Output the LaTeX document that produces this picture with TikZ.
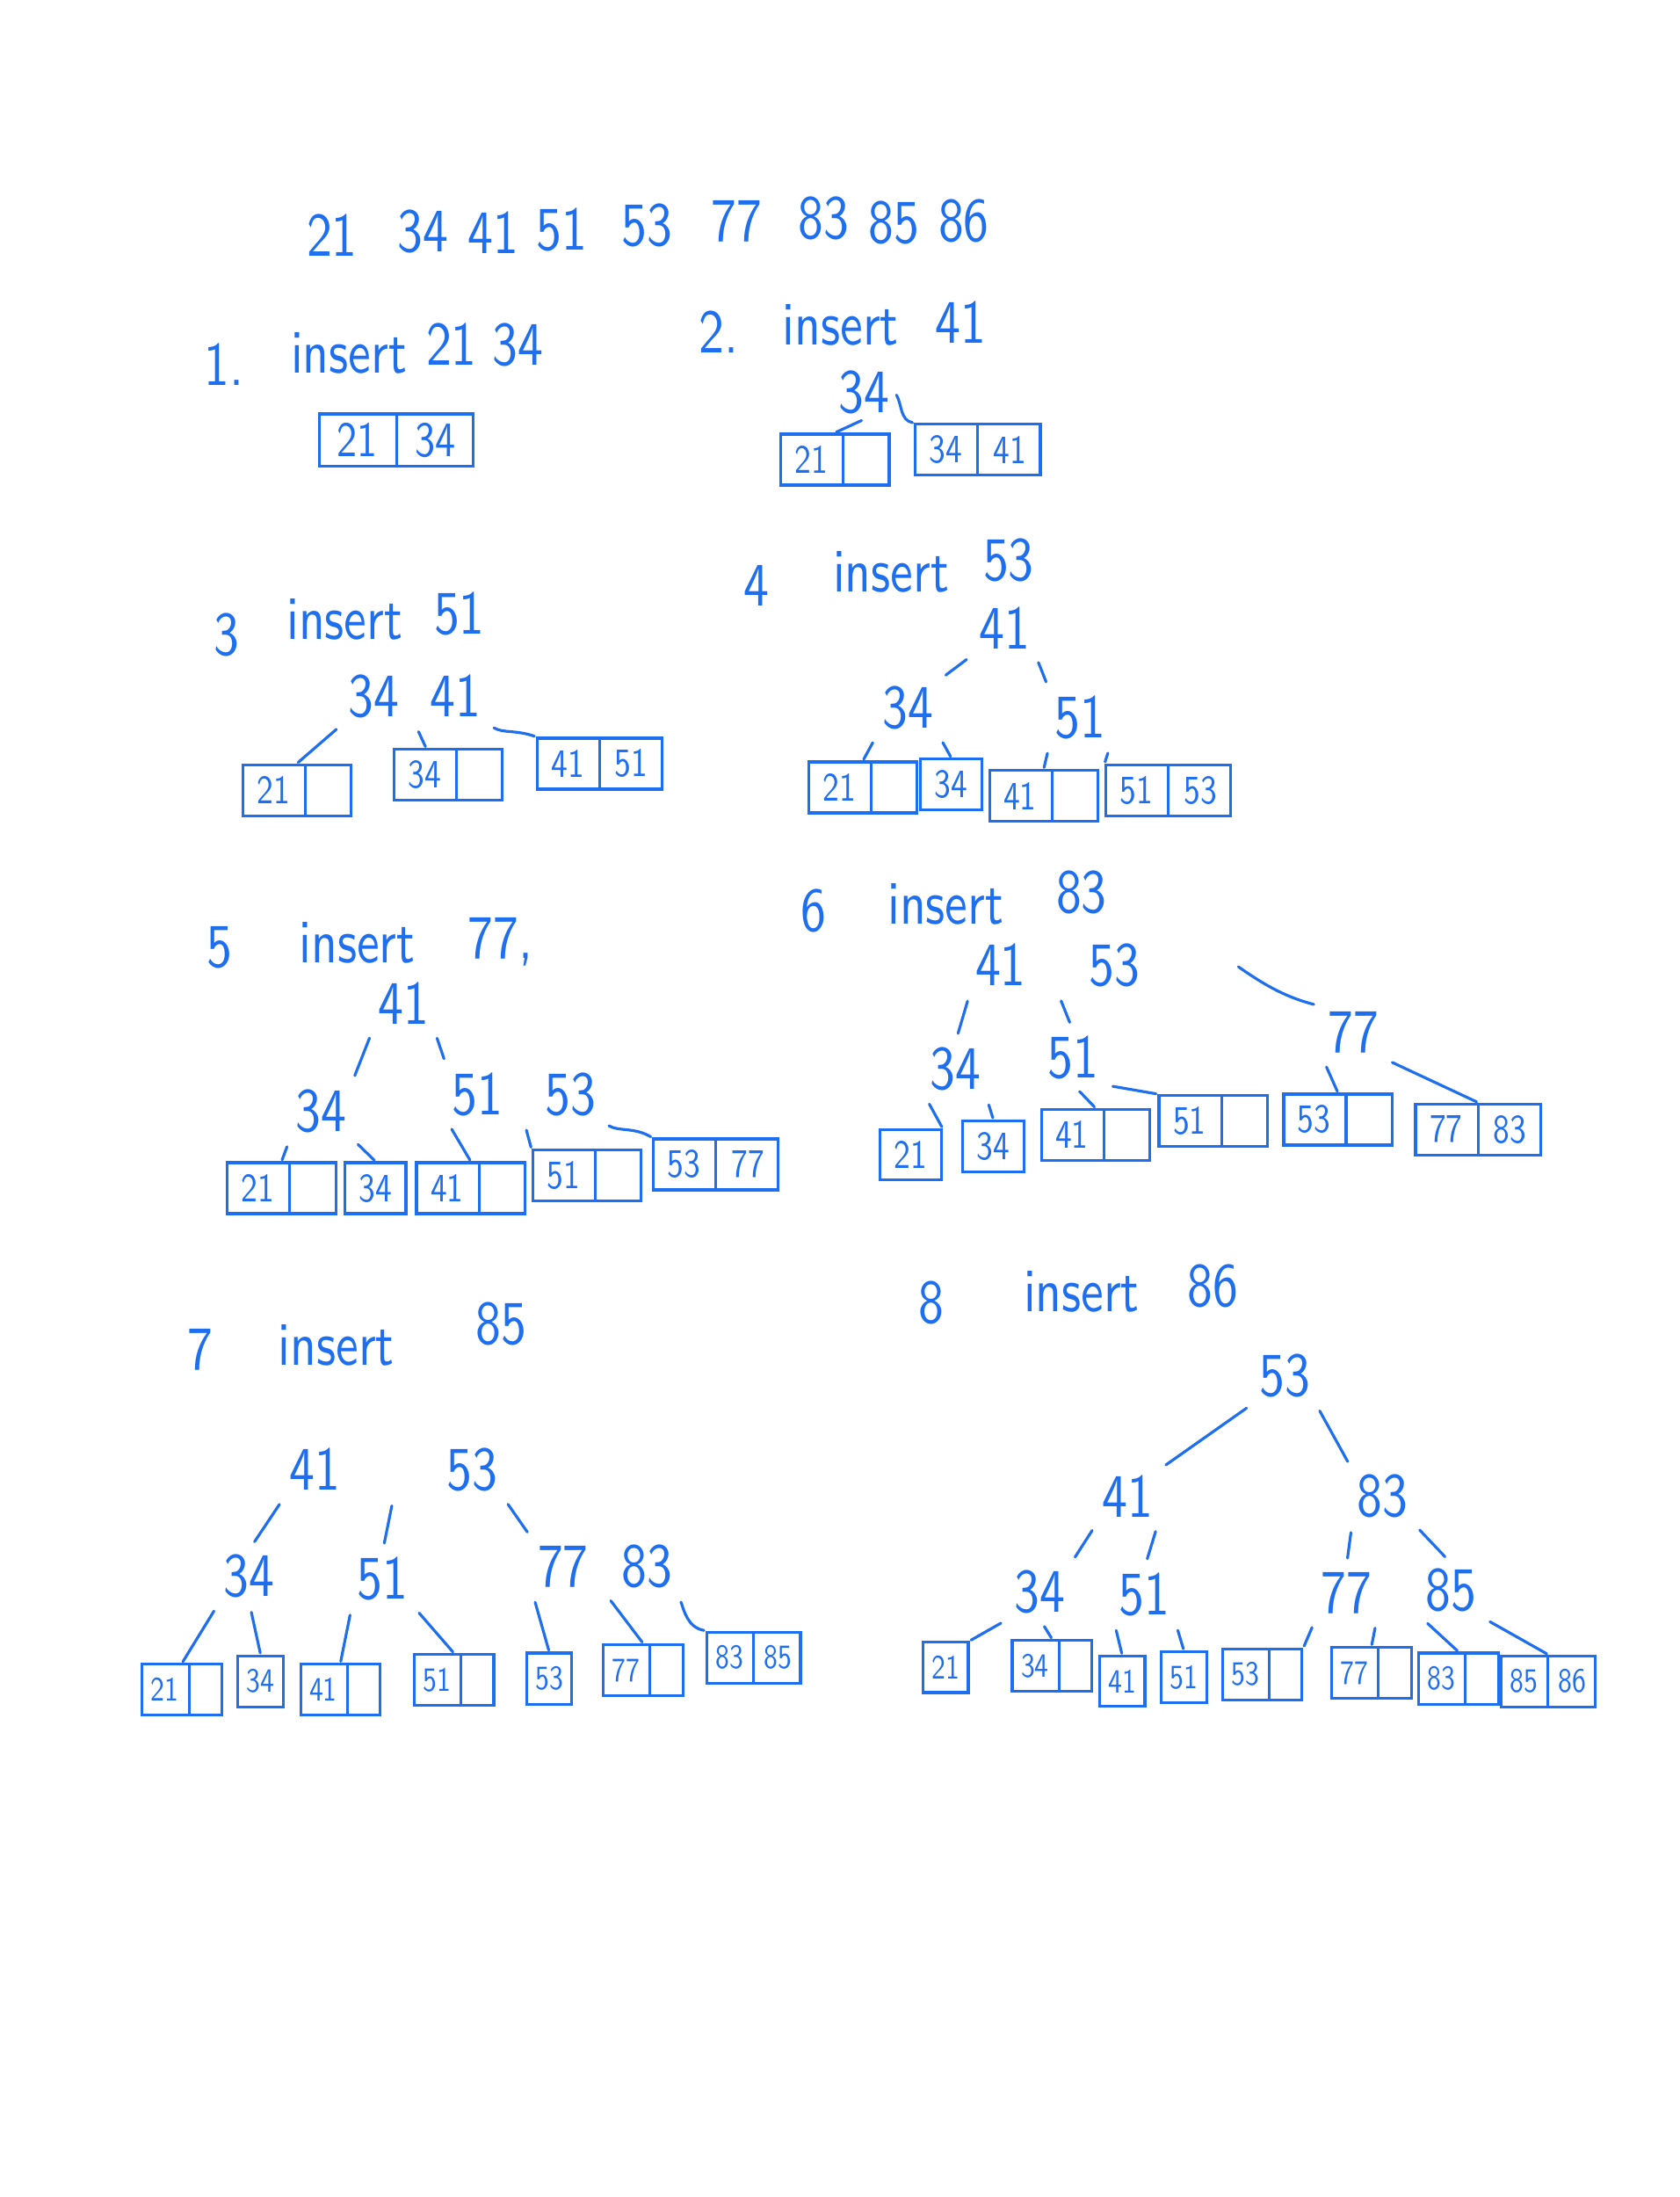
\documentclass[tikz,border=0pt]{standalone}
\usepackage{fontspec}
\usetikzlibrary{shapes.multipart,calc}
\newfontfamily\hand{lmsans10-regular.otf}[FakeStretch=0.82]
\definecolor{ink}{RGB}{30,110,240}
% an empty cell of a leaf keeps the width of one digit
\newcommand\emptycell{\phantom{0}}
\begin{document}
\begin{tikzpicture}[x=0.01594cm,y=-0.01594cm,
  every node/.style={text=ink},
  knode/.style={font=\hand\fontsize{20}{22}\selectfont, inner sep=1.5pt},
  lbl/.style={font=\hand\fontsize{20}{22}\selectfont, inner sep=1pt},
  leaf/.style={draw=ink, line width=0.9pt, rectangle split, rectangle split horizontal,
    rectangle split parts=2, inner xsep=0.16cm, inner ysep=0.13cm,
    font=\hand\fontsize{13}{14}\selectfont},
  cell/.style={draw=ink, line width=0.9pt, rectangle, inner xsep=0.16cm, inner ysep=0.13cm,
    font=\hand\fontsize{13}{14}\selectfont},
  sleaf/.style={leaf, inner xsep=0.1cm, inner ysep=0.155cm,
    font=\hand\fontsize{11}{12}\selectfont},
  scell/.style={cell, inner xsep=0.1cm, inner ysep=0.155cm,
    font=\hand\fontsize{11}{12}\selectfont},
  lnk/.style={draw=ink, line width=0.9pt, line cap=round, shorten <=3pt, shorten >=3pt},
  drop/.style={draw=ink, line width=0.9pt, line cap=round, shorten <=3pt, shorten >=0.5pt},
]
\fill[white] (0,0) rectangle (1199,1568);

% the keys in the order they are inserted
\foreach \v/\x/\y in {21/237/168, 34/302/165, 41/352/166, 51/401/164, 53/462/161,
                      77/526/158, 83/588/156, 85/638/159, 86/688/158}
  \node[knode] (h\v) at (\x,\y) {\v};

% 1. insert 21 34
\node[lbl] (n1) at (160,260) {1.};
\node[lbl] (i1) at (249,252) {insert};
\node[lbl] (v1) at (346,246) {21\hspace{0.18cm}34};
\node[leaf, inner xsep=0.2cm, inner ysep=0.1cm, font=\hand\fontsize{16}{17}\selectfont] (L1) at (283,314) {21\nodepart{two}34};

% 2. insert 41
\node[lbl] (n2) at (513,237) {2.};
\node[lbl] (i2) at (600,232) {insert};
\node[lbl] (v2) at (686,230) {41};
\node[knode] (k2) at (617,280) {34};
\node[leaf] (L2a) at (596,328) {21\nodepart{two}\emptycell};
\node[leaf] (L2b) at (698,321) {34\nodepart{two}41};
\draw[drop, shorten <=1pt] (k2.south) -- (L2a.north);
\draw[drop, shorten <=1pt] (k2.east) to[out=-60,in=170] (L2b.north west);

% 3. insert 51
\node[lbl] (n3) at (162,453) {3};
\node[lbl] (i3) at (246,442) {insert};
\node[lbl] (v3) at (328,438) {51};
\node[knode] (k3) at (296,497) {34\hspace{0.35cm}41};
\node[leaf] (L3a) at (212,564) {21\nodepart{two}\emptycell};
\node[leaf] (L3b) at (320,553) {34\nodepart{two}\emptycell};
\node[leaf] (L3c) at (428,545) {41\nodepart{two}51};
\draw[drop] (k3.south west) -- (L3a.north);
\draw[drop] (k3.south) -- ($(L3b.north west)!0.3!(L3b.north east)$);
\draw[drop] (k3.south east) to[out=-30,in=160] (L3c.north west);

% 4. insert 53
\node[lbl] (n4) at (540,418) {4};
\node[lbl] (i4) at (636,408) {insert};
\node[lbl] (v4) at (720,400) {53};
\node[knode] (r4) at (717,448) {41};
\node[knode] (a4) at (648,505) {34};
\node[knode] (b4) at (771,512) {51};
\node[leaf] (L4a) at (616,562) {21\nodepart{two}\emptycell};
\node[cell] (L4b) at (679,560) {34};
\node[leaf] (L4c) at (745,568) {41\nodepart{two}\emptycell};
\node[leaf] (L4d) at (834,564) {51\nodepart{two}53};
\draw[lnk] (r4.south west) -- (a4.north east);
\draw[lnk] (r4.south east) -- (b4.north west);
\draw[drop] (a4.south west) -- (L4a.north);
\draw[drop] (a4.south east) -- (L4b.north);
\draw[drop] (b4.south west) -- (L4c.north);
\draw[drop] (b4.south east) -- (L4d.north west);

% 5. insert 77
\node[lbl] (n5) at (157,676) {5};
\node[lbl] (i5) at (255,673) {insert};
\node[lbl] (v5) at (357,672) {77,};
\node[knode] (r5) at (288,716) {41};
\node[knode] (a5) at (229,793) {34};
\node[knode] (b5) at (374,781) {51\hspace{0.48cm}53};
\node[leaf] (L5a) at (201,848) {21\nodepart{two}\emptycell};
\node[cell] (L5b) at (268,848) {34};
\node[leaf] (L5c) at (336,848) {41\nodepart{two}\emptycell};
\node[leaf] (L5d) at (419,839) {51\nodepart{two}\emptycell};
\node[leaf] (L5e) at (511,831) {53\nodepart{two}77};
\draw[lnk] (r5.south west) -- (a5.north east);
\draw[lnk] (r5.south east) -- (b5.north west);
\draw[drop] (a5.south west) -- (L5a.north);
\draw[drop] (a5.south east) -- (L5b.north);
\draw[drop] (b5.south west) -- (L5c.north);
\draw[drop] (b5.south) -- (L5d.north west);
\draw[drop] (b5.south east) to[out=-30,in=150] (L5e.north west);

% 6. insert 83
\node[lbl] (n6) at (581,650) {6};
\node[lbl] (i6) at (675,645) {insert};
\node[lbl] (v6) at (772,637) {83};
\node[knode] (r6) at (755,689) {41\hspace{0.72cm}53};
\node[knode] (a6) at (682,763) {34};
\node[knode] (b6) at (766,755) {51};
\node[knode] (c6) at (966,737) {77};
\coordinate (t6) at (884,690);
\node[cell] (L6a) at (650,824) {21};
\node[cell] (L6b) at (709,818) {34};
\node[leaf] (L6c) at (782,810) {41\nodepart{two}\emptycell};
\node[leaf] (L6d) at (866,800) {51\nodepart{two}\emptycell};
\node[leaf] (L6e) at (955,799) {53\nodepart{two}\emptycell};
\node[leaf] (L6f) at (1055,806) {77\nodepart{two}83};
\draw[lnk] (r6.south west) -- (a6.north);
\draw[lnk] (r6.south) -- (b6.north);
\draw[lnk, shorten <=0pt] (t6) to[out=-35,in=165] (c6.north west);
\draw[drop] (a6.south west) -- (L6a.north east);
\draw[drop] (a6.south east) -- (L6b.north);
\draw[drop] (b6.south) -- (L6c.north);
\draw[drop] (b6.south east) -- (L6d.north west);
\draw[drop] (c6.south west) -- (L6e.north);
\draw[drop] (c6.south east) -- (L6f.north);

% 7. insert 85
\node[lbl] (n7) at (143,963) {7};
\node[lbl] (i7) at (240,960) {insert};
\node[lbl] (v7) at (358,945) {85};
\node[knode] (r7) at (281,1049) {41\hspace{1.21cm}53};
\node[knode] (a7) at (178,1125) {34};
\node[knode] (b7) at (273,1127) {51};
\node[knode] (c7) at (432,1118) {77\hspace{0.38cm}83};
\node[sleaf] (L7a) at (130,1206) {21\nodepart{two}\emptycell};
\node[scell] (L7b) at (186,1200) {34};
\node[sleaf] (L7c) at (243,1206) {41\nodepart{two}\emptycell};
\node[sleaf] (L7d) at (324,1199) {51\nodepart{two}\emptycell};
\node[scell] (L7e) at (392,1198) {53};
\node[sleaf] (L7f) at (459,1192) {77\nodepart{two}\emptycell};
\node[sleaf] (L7g) at (538,1183) {83\nodepart{two}85};
\draw[lnk] (r7.south west) -- (a7.north);
\draw[lnk] (r7.south) -- (b7.north);
\draw[lnk] (r7.south east) -- (c7.north west);
\draw[drop] (a7.south west) -- (L7a.north);
\draw[drop] (a7.south) -- (L7b.north);
\draw[drop] (b7.south west) -- (L7c.north);
\draw[drop] (b7.south east) -- (L7d.north);
\draw[drop] (c7.south west) -- (L7e.north);
\draw[drop] (c7.south) -- (L7f.north);
\draw[drop] (c7.south east) to[out=-70,in=170] (L7g.north west);

% 8. insert 86
\node[lbl] (n8) at (665,930) {8};
\node[lbl] (i8) at (772,922) {insert};
\node[lbl] (v8) at (866,918) {86};
\node[knode] (r8) at (917,982) {53};
\node[knode] (a8) at (805,1068) {41};
\node[knode] (b8) at (987,1068) {83};
\node[knode] (c8) at (742,1136) {34};
\node[knode] (d8) at (817,1138) {51};
\node[knode] (e8) at (961,1137) {77};
\node[knode] (f8) at (1036,1135) {85};
\node[scell] (L8a) at (675,1190) {21};
\node[sleaf] (L8b) at (751,1189) {34\nodepart{two}\emptycell};
\node[scell] (L8c) at (801,1200) {41};
\node[scell] (L8d) at (845,1197) {51};
\node[sleaf] (L8e) at (901,1195) {53\nodepart{two}\emptycell};
\node[sleaf] (L8f) at (979,1194) {77\nodepart{two}\emptycell};
\node[sleaf] (L8g) at (1041,1198) {83\nodepart{two}\emptycell};
\node[sleaf] (L8h) at (1105,1200) {85\nodepart{two}86};
\draw[lnk] (r8.south west) -- (a8.north east);
\draw[lnk] (r8.south east) -- (b8.north west);
\draw[lnk] (a8.south west) -- (c8.north east);
\draw[lnk] (a8.south east) -- (d8.north);
\draw[lnk] (b8.south west) -- (e8.north);
\draw[lnk] (b8.south east) -- (f8.north);
\draw[drop] (c8.south west) -- (L8a.north east);
\draw[drop] (c8.south) -- (L8b.north);
\draw[drop] (d8.south west) -- (L8c.north);
\draw[drop] (d8.south east) -- (L8d.north);
\draw[drop] (e8.south west) -- (L8e.north east);
\draw[drop] (e8.south east) -- (L8f.north);
\draw[drop] (f8.south west) -- (L8g.north);
\draw[drop] (f8.south east) -- (L8h.north);
\end{tikzpicture}
\end{document}
